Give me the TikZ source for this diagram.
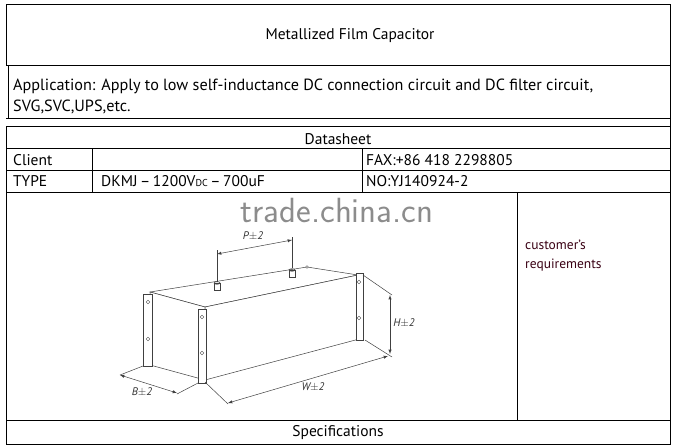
\documentclass[tikz,border=0pt]{standalone}
\usepackage{fontspec}
\setmainfont{PT Sans}
\begin{document}
\begin{tikzpicture}[x=1pt,y=-1pt,
  tl/.style={line width=1pt,black},
  dl/.style={line width=0.5pt,black!75},
  dim/.style={line width=0.5pt,black!75,<->,>=latex},
  hole/.style={draw=black!70,line width=0.4pt,fill=white,circle,inner sep=1.3pt},
  lbl/.style={font=\itshape\fontsize{11}{11}\selectfont,text=black!80},
  txt/.style={font=\fontsize{15.5}{18}\selectfont,anchor=west,inner sep=0pt}]
\useasboundingbox (0,0) rectangle (674,445);
% table lines
\draw[tl] (6,4) -- (670,4);
\draw[tl] (6,4) -- (6,65) -- (670,65);
\draw[tl] (670,4) -- (670,445);
\draw[tl] (8,65) -- (8,118);
\draw[tl] (6,118) -- (670,118);
\draw[tl] (6,126) -- (670,126);
\draw[tl] (6,148) -- (670,148);
\draw[tl] (6,170) -- (670,170);
\draw[tl] (6,192) -- (670,192);
\draw[tl] (6,126) -- (6,445);
\draw[tl] (92,148) -- (92,192);
\draw[tl] (362,148) -- (362,192);
\draw[tl] (517,192) -- (517,420);
\draw[tl] (6,420) -- (670,420);
\draw[tl] (6,444) -- (670,444);
\foreach \xx in {93,284,449,615} \draw[tl] (\xx,444) -- (\xx,445);
% texts
\node[font=\fontsize{15.5}{18}\selectfont] (title) at (350,36) {Metallized Film Capacitor};
\node[txt,font=\fontsize{16.2}{20}\selectfont] (app1) at (13,86) {Application: Apply to low self-inductance DC connection circuit and DC filter circuit,};
\node[txt,font=\fontsize{16.2}{20}\selectfont] (app2) at (13,107) {SVG,SVC,UPS,etc.};
\node[font=\fontsize{15.5}{18}\selectfont] (ds) at (338,139) {Datasheet};
\node[txt] (client) at (13,160) {Client};
\node[txt] (type) at (13,181) {TYPE};
\node[txt] (typev) at (101,181) {DKMJ\,–\,1200V{\fontsize{10}{10}\selectfont DC}\,–\,700uF};
\node[txt] (fax) at (366,160) {FAX:+86 418 2298805};
\node[txt] (no) at (366,181) {NO:YJ140924-2};
\node[font=\fontsize{15.5}{18}\selectfont] (spec) at (338,433) {Specifications};
\node[txt,font=\fontsize{13.5}{14}\selectfont,text=black!70!purple] (c1) at (525,245) {customer's};
\node[txt,font=\fontsize{13.5}{14}\selectfont,text=black!70!purple] (c2) at (525,265) {requirements};
\node[font=\sffamily\fontsize{35}{35}\selectfont,text=black!45,inner sep=0pt] (wm) at (337,210) {trade.china.cn};
% box
\draw[dl,fill=white] (150,292) -- (307,267) -- (358,275) -- (205,307) -- cycle;
\draw[dl,fill=white] (150,292) -- (205,307) -- (205,380) -- (150,365) -- cycle;
\draw[dl,fill=white] (205,307) -- (358,275) -- (363,338) -- (205,380) -- cycle;
% flanges
\draw[dl,fill=white] (143,294) rectangle (152,366);
\draw[dl,fill=white] (198,309) rectangle (206,383);
\draw[dl,fill=white] (356,273) rectangle (363,340);
\foreach \p in {(148,302),(148,339),(202,317),(202,353),(359,282),(359,318)} \node[hole] at \p {};
% terminals
\foreach \p in {(217,287),(292,274)} {
  \draw[dl,fill=white] \p ++(-3,-4) rectangle ++(6,7);
  \draw[dl] \p ++(0,-4) ellipse (3 and 1.3);
}
\node[hole,inner sep=1pt] at (307,267) {};
% dimensions
\draw[dl] (217,282) -- (217,250);
\draw[dl] (292,268) -- (292,237);
\draw[dim] (217,254) -- (292,240);
\node[lbl,inner sep=1pt] (P) at (253,236) {P$\pm$2};
\draw[dl] (363,275) -- (392,295);
\draw[dl] (365,340) -- (392,357);
\draw[dim] (390,295) -- (390,354);
\node[lbl] (H) at (404,323) {H$\pm$2};
\draw[dl] (205,382) -- (228,404);
\draw[dim] (228,403) -- (388,356);
\node[lbl] (W) at (313,387) {W$\pm$2};
\draw[dl] (143,366) -- (120,375);
\draw[dl] (198,383) -- (177,394);
\draw[dim] (120,375) -- (177,393);
\node[lbl] (B) at (142,392) {B$\pm$2};
\end{tikzpicture}
\end{document}
